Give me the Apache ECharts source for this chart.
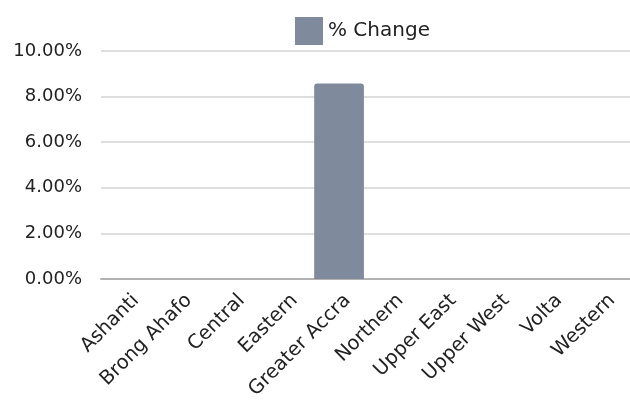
<!DOCTYPE html>
<html>
<head>
<meta charset="utf-8">
<script src="https://cdn.jsdelivr.net/npm/echarts@6/dist/echarts.min.js"></script>
<style>
  html, body { margin: 0; padding: 0; background: #fff; }
  #main { width: 630px; height: 412px; }
</style>
</head>
<body>
<div id="main"></div>
<script>
// regions along the x axis
var regions = [
  "Ashanti", "Brong Ahafo", "Central", "Eastern", "Greater Accra",
  "Northern", "Upper East", "Upper West", "Volta", "Western"
];
// % change per region
var pctChange = [0, 0, 0, 0, 8.58, 0, 0, 0, 0, 0];
var seriesName = "% Change";

var font = "DejaVu Sans";
var myChart = echarts.init(document.getElementById("main"));

var option = {
  animation: false,
  textStyle: { fontFamily: font },
  legend: {
    data: [seriesName],
    icon: "rect",
    left: 290,
    top: 12,
    itemWidth: 28,
    itemHeight: 28,
    itemGap: 6,
    itemStyle: { borderWidth: 0 },
    textStyle: { fontSize: 20, color: "#222", fontFamily: font }
  },
  grid: {
    left: 101,
    right: 0,
    top: 51,
    bottom: 133
  },
  xAxis: {
    type: "category",
    data: regions,
    axisLine: { lineStyle: { color: "#b3b3b3", width: 2 } },
    axisTick: { show: false },
    axisLabel: {
      rotate: 45,
      interval: 0,
      margin: 10,
      fontSize: 19.5,
      lineHeight: 24,
      verticalAlign: "top",
      color: "#222",
      fontFamily: font
    }
  },
  yAxis: {
    type: "value",
    min: 0,
    max: 10,
    interval: 2,
    axisLine: { show: false },
    axisTick: { show: false },
    splitLine: { lineStyle: { color: "#d3d3d3", width: 1.5 } },
    axisLabel: {
      margin: 19,
      fontSize: 18,
      color: "#222",
      fontFamily: font,
      formatter: function (v) { return v.toFixed(2) + "%"; }
    }
  },
  series: [
    {
      name: seriesName,
      type: "bar",
      data: pctChange,
      barWidth: "94%",
      itemStyle: { color: "#7f8a9d", borderRadius: [3, 3, 0, 0] }
    }
  ]
};
myChart.setOption(option);
</script>
</body>
</html>
